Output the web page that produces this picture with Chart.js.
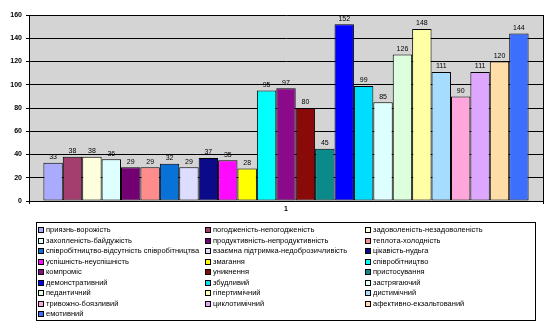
<!DOCTYPE html>
<html>
<head>
<meta charset="utf-8">
<script src="https://cdn.jsdelivr.net/npm/chart.js@4"></script>
<style>
  html, body { margin: 0; padding: 0; background: #fff; }
  #wrap { position: relative; width: 553px; height: 326px; }
</style>
</head>
<body>
<div id="wrap"><canvas id="chart" width="553" height="326"></canvas></div>
<script>
// дані діаграми
const categories = ["1"];

const seriesNames = [
  "приязнь-ворожість",
  "погодженість-непогодженість",
  "задоволеність-незадоволеність",
  "захопленість-байдужість",
  "продуктивність-непродуктивність",
  "теплота-холодність",
  "співробітництво-відсутність співробітництва",
  "взаємна підтримка-недоброзичливість",
  "цікавість-нудьга",
  "успішність-неуспішність",
  "змагання",
  "співробітництво",
  "компроміс",
  "уникнення",
  "пристосування",
  "демонстративний",
  "збудливий",
  "застрягаючий",
  "педантичний",
  "гіпертимічний",
  "дистимічний",
  "тривожно-боязливий",
  "циклотимічний",
  "афективно-екзальтований",
  "емотивний"
];

const seriesValues = [33, 38, 38, 36, 29, 29, 32, 29, 37, 35, 28, 95, 97, 80, 45, 152, 99, 85, 126, 148, 111, 90, 111, 120, 144];

const seriesColors = [
  "#aaaaff", "#a33e6e", "#ffffdd", "#ddffff", "#730073",
  "#ff8c8c", "#0872d8", "#ddddff", "#0a0a8a", "#ff0aff",
  "#ffff00", "#00ffff", "#8a0a8a", "#8a0a0a", "#0a8a8a",
  "#0000ff", "#00ddff", "#ddffff", "#ddffdd", "#ffffa6",
  "#a6ddff", "#ffa6dd", "#dda6ff", "#ffdda6", "#3d6fff"
];

const yMin = 0;
const yMax = 160;
const yStep = 20;

const FONT = "'Liberation Sans', Arial, sans-serif";

// сірий фон області побудови
const plotBackground = {
  id: "plotBackground",
  beforeDraw(chart) {
    const { ctx, chartArea: a } = chart;
    ctx.save();
    ctx.fillStyle = "#fff";
    ctx.fillRect(0, 0, chart.width, chart.height);
    ctx.fillStyle = "#d4d4d4";
    ctx.fillRect(a.left, a.top, a.right - a.left, a.bottom - a.top);
    ctx.restore();
  }
};

// підписи значень над стовпцями
const valueLabels = {
  id: "valueLabels",
  afterDatasetsDraw(chart) {
    const ctx = chart.ctx;
    ctx.save();
    ctx.font = "7px " + FONT;
    ctx.fillStyle = "#000";
    ctx.textAlign = "center";
    ctx.textBaseline = "bottom";
    chart.data.datasets.forEach((ds, i) => {
      chart.getDatasetMeta(i).data.forEach((bar, j) => {
        ctx.fillText(String(ds.data[j]), bar.x, bar.y - 2);
      });
    });
    ctx.restore();
  }
};

// легенда в рамці, три колонки
const boxLegend = {
  id: "boxLegend",
  afterDraw(chart) {
    const ctx = chart.ctx;
    const cols = [38, 205, 365];
    const rowTop = 230, rowStep = 10.5;
    ctx.save();
    ctx.strokeStyle = "#000";
    ctx.lineWidth = 1;
    ctx.strokeRect(36.5, 222.5, 499, 98);
    ctx.font = "7.5px " + FONT;
    ctx.textBaseline = "middle";
    ctx.textAlign = "left";
    chart.data.datasets.forEach((ds, i) => {
      const x = cols[i % 3];
      const y = Math.round(rowTop + Math.floor(i / 3) * rowStep);
      ctx.fillStyle = ds.backgroundColor;
      ctx.fillRect(x, y - 3, 5, 5);
      ctx.strokeRect(x + 0.5, y - 2.5, 5, 5);
      ctx.fillStyle = "#000";
      ctx.fillText(ds.label, x + 8, y);
    });
    ctx.restore();
  }
};

new Chart(document.getElementById("chart"), {
  type: "bar",
  data: {
    labels: categories,
    datasets: seriesNames.map((name, i) => ({
      label: name,
      data: [seriesValues[i]],
      backgroundColor: seriesColors[i],
      borderColor: "#000",
      borderWidth: 1,
      borderSkipped: false
    }))
  },
  options: {
    responsive: false,
    animation: false,
    devicePixelRatio: 1,
    layout: { padding: { top: 15, right: 10, bottom: 0, left: 0 } },
    categoryPercentage: 0.944,
    barPercentage: 1,
    plugins: {
      legend: { display: false },
      tooltip: { enabled: false }
    },
    scales: {
      x: {
        afterFit(s) { s.height = 125; },
        grid: { color: "#000", tickLength: 3, offset: true },
        border: { color: "#000" },
        ticks: { color: "#000", padding: 1, font: { family: FONT, size: 7, weight: "bold" } }
      },
      y: {
        min: yMin,
        max: yMax,
        afterFit(s) { s.width = 29; },
        grid: { color: "#000", tickLength: 3 },
        border: { color: "#000" },
        ticks: { stepSize: yStep, color: "#000", padding: 4, font: { family: FONT, size: 7, weight: "bold" } }
      }
    }
  },
  plugins: [plotBackground, valueLabels, boxLegend]
});
</script>
</body>
</html>
